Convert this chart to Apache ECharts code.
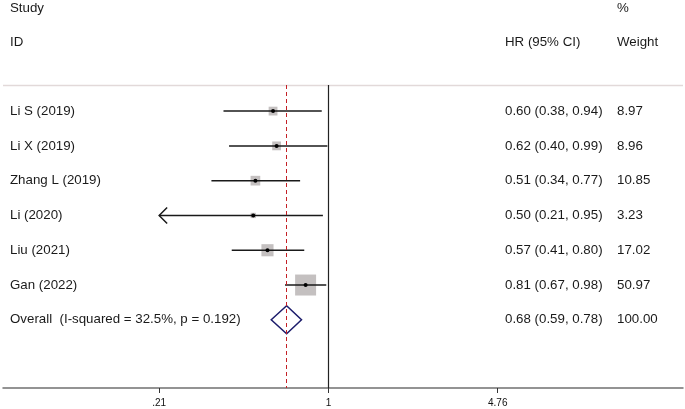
<!DOCTYPE html>
<html>
<head>
<meta charset="utf-8">
<script src="https://cdn.jsdelivr.net/npm/echarts@6/dist/echarts.min.js"></script>
<style>
  html, body {margin: 0; padding: 0; background: #fff;}
  #chart {width: 685px; height: 409px;}
</style>
</head>
<body>
<div id="chart"></div>
<script>
const studies = ['Li S (2019)', 'Li X (2019)', 'Zhang L (2019)', 'Li (2020)', 'Liu (2021)', 'Gan (2022)']
const hr = [0.60, 0.62, 0.51, 0.50, 0.57, 0.81]
const lower = [0.38, 0.40, 0.34, 0.21, 0.41, 0.67]
const upper = [0.94, 0.99, 0.77, 0.95, 0.80, 0.98]
const weights = [8.97, 8.96, 10.85, 3.23, 17.02, 50.97]
const overallLabel = 'Overall  (I-squared = 32.5%, p = 0.192)'
const overallHr = 0.68
const overallLower = 0.59
const overallUpper = 0.78
const overallWeight = 100.00
const tickValues = [0.21, 1, 4.76]
const tickLabels = ['.21', '1', '4.76']

const font = '"Liberation Sans", Arial, sans-serif'
const fs = 13.3
const axisMinHr = tickValues[0]
const ln = Math.log

const fmt = (a, b, c) => `${a.toFixed(2)} (${b.toFixed(2)}, ${c.toFixed(2)})`

const rows = studies.map((s, i) => [i, hr[i], lower[i], upper[i], weights[i]])

const chart = echarts.init(document.getElementById('chart'))

const txt = (x, y, s) => ({
  type: 'text',
  style: {x, y, text: s, fill: '#1a1a1a', font: `${fs}px ${font}`, textVerticalAlign: 'middle'}
})

chart.setOption({
  animation: false,
  grid: {left: 3, right: 2, top: 85, bottom: 21},
  xAxis: {
    type: 'value',
    min: -3.0,
    max: 3.268,
    splitLine: {show: false},
    axisLine: {show: true, onZero: false, lineStyle: {color: '#707070', width: 1.5}},
    axisTick: {show: true, customValues: tickValues.map(ln), length: 5, lineStyle: {color: '#333', width: 1}},
    axisLabel: {
      customValues: tickValues.map(ln),
      formatter: v => tickLabels[tickValues.findIndex(t => Math.abs(ln(t) - v) < 1e-6)],
      fontSize: 10, fontFamily: font, color: '#111', margin: 10
    }
  },
  yAxis: {
    type: 'value', inverse: true, min: -0.75, max: 7.96, show: false
  },
  graphic: [
    txt(10, 8, 'Study'),
    txt(10, 42, 'ID'),
    txt(617, 8, '%'),
    txt(505, 42, 'HR (95% CI)'),
    txt(617, 42, 'Weight'),
    {type: 'line', shape: {x1: 3, y1: 85.5, x2: 683, y2: 85.5}, style: {stroke: '#e2d9d9', lineWidth: 1.5}}
  ],
  series: [
    {
      type: 'line',
      data: [],
      markLine: {
        silent: true, symbol: 'none', label: {show: false},
        data: [
          {xAxis: 0, lineStyle: {color: '#222', type: 'solid', width: 1.2}},
          {xAxis: ln(overallHr), lineStyle: {color: '#c42026', type: [4, 3], width: 1}}
        ]
      }
    },
    {
      type: 'custom',
      clip: false,
      data: rows,
      renderItem(params, api) {
        const i = api.value(0)
        const p = api.coord([ln(api.value(1)), i])
        const lo = api.value(2), hi = api.value(3), w = api.value(4)
        const cLo = api.coord([ln(Math.max(lo, axisMinHr)), i])
        const cHi = api.coord([ln(hi), i])
        const side = 2.94 * Math.sqrt(w)
        const ch = [
          {type: 'rect', shape: {x: p[0] - side / 2, y: p[1] - side / 2, width: side, height: side}, style: {fill: '#c4c0c0'}},
          {type: 'line', shape: {x1: cLo[0], y1: p[1], x2: cHi[0], y2: p[1]}, style: {stroke: '#1a1a1a', lineWidth: 1.5}},
          {type: 'circle', shape: {cx: p[0], cy: p[1], r: 2}, style: {fill: '#000'}},
          txt(10, p[1], studies[i]),
          txt(505, p[1], fmt(api.value(1), lo, hi)),
          txt(617, p[1], w.toFixed(2))
        ]
        if (lo <= axisMinHr) {
          ch.push({type: 'polyline', shape: {points: [[cLo[0] + 8, p[1] - 8], [cLo[0], p[1]], [cLo[0] + 8, p[1] + 8]]},
            style: {stroke: '#1a1a1a', lineWidth: 1.5, fill: null}})
        }
        return {type: 'group', children: ch}
      }
    },
    {
      type: 'custom',
      clip: false,
      data: [[studies.length, overallHr, overallLower, overallUpper, overallWeight]],
      renderItem(params, api) {
        const i = api.value(0)
        const p = api.coord([ln(api.value(1)), i])
        const l = api.coord([ln(api.value(2)), i])
        const r = api.coord([ln(api.value(3)), i])
        return {type: 'group', children: [
          {type: 'polygon', shape: {points: [[l[0], p[1]], [p[0], p[1] - 14], [r[0], p[1]], [p[0], p[1] + 14]]},
            style: {stroke: '#1c1c6b', lineWidth: 1.5, fill: null}},
          txt(10, p[1], overallLabel),
          txt(505, p[1], fmt(api.value(1), api.value(2), api.value(3))),
          txt(617, p[1], api.value(4).toFixed(2))
        ]}
      }
    }
  ]
})
</script>
</body>
</html>
